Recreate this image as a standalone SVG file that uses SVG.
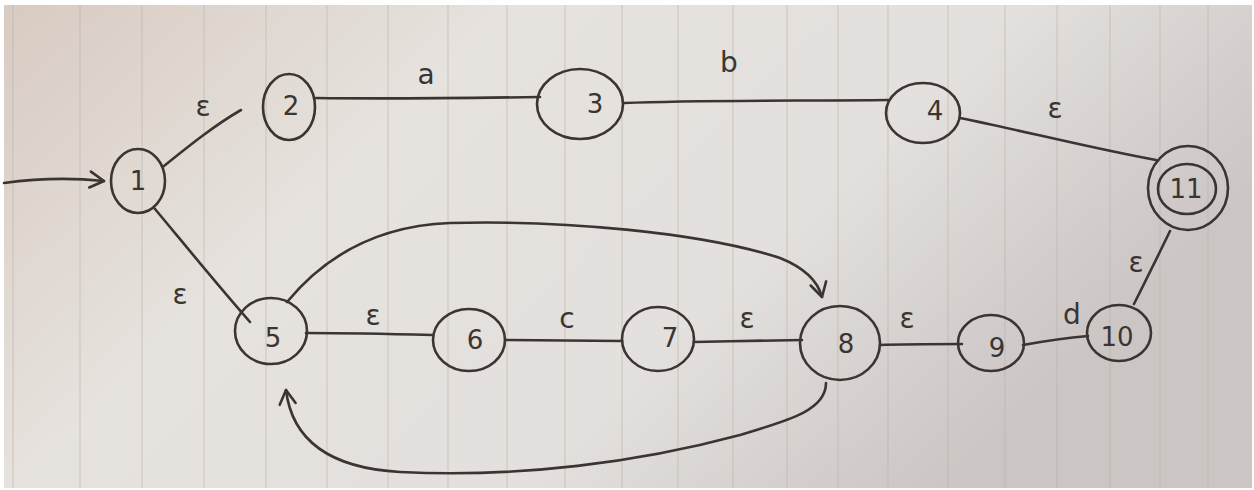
<svg xmlns="http://www.w3.org/2000/svg" width="1254" height="490" viewBox="0 0 1254 490">
<defs>
<linearGradient id="paper" x1="0" y1="0" x2="1" y2="0.4">
<stop offset="0" stop-color="#d8cbc2"/>
<stop offset="0.35" stop-color="#e6e2dd"/>
<stop offset="0.7" stop-color="#e3e0dd"/>
<stop offset="1" stop-color="#cbc5c4"/>
</linearGradient>
<marker id="arr" viewBox="0 0 20 20" refX="16" refY="10" markerWidth="20" markerHeight="20" markerUnits="userSpaceOnUse" orient="auto">
<path d="M2,2 L16,10 L2,18" fill="none" stroke="#3a3532" stroke-width="2.6" stroke-linecap="round" stroke-linejoin="round"/>
</marker>
<style>
.s{fill:none;stroke:#3a3532;stroke-width:2.6;stroke-linecap:round;stroke-linejoin:round}
.n{fill:none;stroke:#3a3532;stroke-width:2.6}
.t{font-family:"DejaVu Sans",sans-serif;font-size:26px;fill:#3a3532;text-anchor:middle;dominant-baseline:central}
.l{font-family:"DejaVu Sans",sans-serif;font-size:28px;fill:#3a3532;text-anchor:middle;dominant-baseline:central}
.pl{stroke:#b8b0aa;stroke-width:1.4;opacity:0.4}
</style>
</defs>
<rect x="0" y="0" width="1254" height="490" fill="#ffffff"/>
<rect x="4" y="5" width="1248" height="483" fill="url(#paper)"/>
<g id="paper-lines">
<line class="pl" x1="13" y1="5" x2="13" y2="488"/>
<line class="pl" x1="80" y1="5" x2="80" y2="488"/>
<line class="pl" x1="142" y1="5" x2="142" y2="488"/>
<line class="pl" x1="204" y1="5" x2="204" y2="488"/>
<line class="pl" x1="266" y1="5" x2="266" y2="488"/>
<line class="pl" x1="327" y1="5" x2="327" y2="488"/>
<line class="pl" x1="388" y1="5" x2="388" y2="488"/>
<line class="pl" x1="448" y1="5" x2="448" y2="488"/>
<line class="pl" x1="507" y1="5" x2="507" y2="488"/>
<line class="pl" x1="565" y1="5" x2="565" y2="488"/>
<line class="pl" x1="622" y1="5" x2="622" y2="488"/>
<line class="pl" x1="678" y1="5" x2="678" y2="488"/>
<line class="pl" x1="733" y1="5" x2="733" y2="488"/>
<line class="pl" x1="787" y1="5" x2="787" y2="488"/>
<line class="pl" x1="838" y1="5" x2="838" y2="488"/>
<line class="pl" x1="888" y1="5" x2="888" y2="488"/>
<line class="pl" x1="948" y1="5" x2="948" y2="488"/>
<line class="pl" x1="1005" y1="5" x2="1005" y2="488"/>
<line class="pl" x1="1057" y1="5" x2="1057" y2="488"/>
<line class="pl" x1="1110" y1="5" x2="1110" y2="488"/>
<line class="pl" x1="1160" y1="5" x2="1160" y2="488"/>
<line class="pl" x1="1208" y1="5" x2="1208" y2="488"/>
</g>
<g id="connectors">
<path class="s" d="M4,183 C40,178 75,178 104,181" marker-end="url(#arr)"/>
<path class="s" d="M164,166 C190,145 215,125 241,110"/>
<path class="s" d="M155,209 C185,245 215,282 250,322"/>
<path class="s" d="M316,98 C390,99 470,98 540,97"/>
<path class="s" d="M624,103 C700,100 800,101 888,100"/>
<path class="s" d="M960,118 C1020,130 1090,148 1156,160"/>
<path class="s" d="M1170,231 C1158,256 1146,280 1134,304"/>
<path class="s" d="M1023,345 C1045,341 1065,338 1088,336"/>
<path class="s" d="M880,345 C905,344 935,344 962,344"/>
<path class="s" d="M694,342 C730,341 765,341 802,340"/>
<path class="s" d="M505,340 C545,340 585,341 622,341"/>
<path class="s" d="M306,333 C350,333 395,334 432,335"/>
<path class="s" d="M287,302 C320,262 370,226 450,223 C560,220 700,232 780,258 C805,268 818,282 822,297" marker-end="url(#arr)"/>
<path class="s" d="M826,383 C826,410 790,420 740,435 C640,462 520,478 400,472 C330,468 292,440 286,390" marker-end="url(#arr)"/>
</g>
<g id="labels">
<text class="l" x="203" y="106">ε</text>
<text class="l" x="180" y="294">ε</text>
<text class="l" x="426" y="74">a</text>
<text class="l" x="729" y="62">b</text>
<text class="l" x="1055" y="108">ε</text>
<text class="l" x="1136" y="262">ε</text>
<text class="l" x="1072" y="314">d</text>
<text class="l" x="907" y="318">ε</text>
<text class="l" x="747" y="318">ε</text>
<text class="l" x="567" y="318">c</text>
<text class="l" x="373" y="315">ε</text>
</g>
<g id="node-1"><ellipse class="n" cx="138" cy="181" rx="27" ry="32"/><text class="t" x="138" y="181">1</text></g>
<g id="node-2"><ellipse class="n" cx="289" cy="107" rx="26" ry="33"/><text class="t" x="291" y="106">2</text></g>
<g id="node-3"><ellipse class="n" cx="580" cy="104" rx="43" ry="35"/><text class="t" x="595" y="104">3</text></g>
<g id="node-4"><ellipse class="n" cx="923" cy="113" rx="37" ry="30"/><text class="t" x="935" y="111">4</text></g>
<g id="node-11"><ellipse class="n" cx="1188" cy="188" rx="40" ry="42"/><ellipse class="n" cx="1187" cy="189" rx="29" ry="25"/><text class="t" x="1186" y="189">11</text></g>
<g id="node-5"><ellipse class="n" cx="271" cy="331" rx="36" ry="33"/><text class="t" x="273" y="338">5</text></g>
<g id="node-6"><ellipse class="n" cx="469" cy="340" rx="36" ry="31"/><text class="t" x="475" y="340">6</text></g>
<g id="node-7"><ellipse class="n" cx="658" cy="339" rx="36" ry="32"/><text class="t" x="670" y="338">7</text></g>
<g id="node-8"><ellipse class="n" cx="840" cy="343" rx="40" ry="37"/><text class="t" x="846" y="344">8</text></g>
<g id="node-9"><ellipse class="n" cx="991" cy="343" rx="33" ry="28"/><text class="t" x="997" y="348">9</text></g>
<g id="node-10"><ellipse class="n" cx="1119" cy="333" rx="32" ry="28"/><text class="t" x="1117" y="337">10</text></g>
</svg>
